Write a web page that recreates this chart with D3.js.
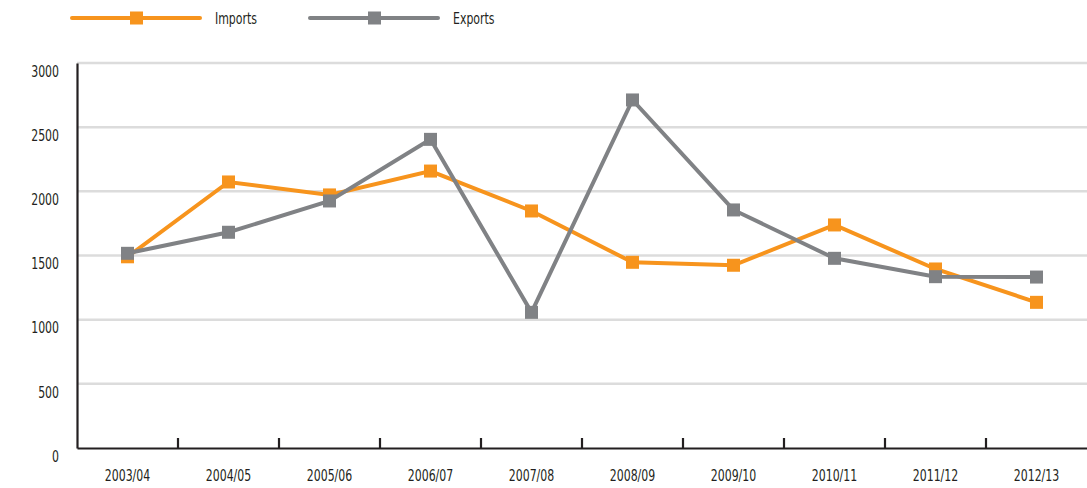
<!DOCTYPE html>
<html><head><meta charset="utf-8">
<script src="https://cdn.jsdelivr.net/npm/d3@7"></script>
<style>
html,body{margin:0;padding:0;background:#fff;}
svg text{font-family:"DejaVu Sans Condensed","DejaVu Sans",sans-serif;fill:#231f20;}
</style></head>
<body>
<svg id="chart" width="1087" height="488"></svg>
<script>
const categories = ["2003/04","2004/05","2005/06","2006/07","2007/08","2008/09","2009/10","2010/11","2011/12","2012/13"];
const imports = [1490, 2073, 1972, 2158, 1847, 1447, 1424, 1738, 1395, 1135];
const exports = [1517, 1681, 1925, 2405, 1057, 2712, 1855, 1478, 1335, 1332];
const yTicks = [0, 500, 1000, 1500, 2000, 2500, 3000];
const seriesNames = ["Imports", "Exports"];
const seriesColors = ["#f7941d", "#808285"];

const svg = d3.select("#chart");
const mLeft = 77, mRight = 1087, mTop = 63, mBottom = 448;
const FS = 16, SX = 0.76;

const x = d3.scaleBand().domain(categories).range([mLeft, mRight]);
const y = d3.scaleLinear().domain([0, 3000]).range([mBottom, mTop]);

// gridlines
svg.append("g").selectAll("line").data(yTicks.filter(d => d > 0)).join("line")
  .attr("x1", mLeft).attr("x2", mRight)
  .attr("y1", d => y(d)).attr("y2", d => y(d))
  .attr("stroke", "#dcdcdc").attr("stroke-width", 2.5);

// y axis
const yAxis = svg.append("g").attr("transform", `translate(${mLeft},0)`)
  .call(d3.axisLeft(y).tickValues(yTicks).tickFormat(d3.format("d")).tickSize(0));
yAxis.select(".domain").attr("stroke", "#231f20").attr("stroke-width", 2.2);
yAxis.selectAll("text").attr("font-size", FS).attr("font-family", null)
  .attr("x", -18 / SX).attr("y", 7.5).attr("dy", "0.36em")
  .attr("transform", `scale(${SX},1)`);

// x axis
const xAxis = svg.append("g").attr("transform", `translate(0,${mBottom})`)
  .call(d3.axisBottom(x).tickSize(0));
xAxis.select(".domain").attr("stroke", "#231f20").attr("stroke-width", 2.2);
xAxis.selectAll("text").attr("font-size", FS).attr("font-family", null)
  .attr("y", 27.5).attr("dy", "0.36em")
  .attr("transform", `scale(${SX},1)`);
// tick marks at band boundaries
svg.append("g").selectAll("line").data(categories.slice(1)).join("line")
  .attr("x1", d => x(d)).attr("x2", d => x(d))
  .attr("y1", mBottom - 10).attr("y2", mBottom)
  .attr("stroke", "#231f20").attr("stroke-width", 2.2);

const cx = d => x(d) + x.bandwidth() / 2;
const line = d3.line().x(d => cx(d.c)).y(d => y(d.v));

[imports, exports].forEach((vals, i) => {
  const data = categories.map((c, j) => ({c, v: vals[j]}));
  const g = svg.append("g");
  g.append("path").datum(data).attr("d", line)
    .attr("fill", "none").attr("stroke", seriesColors[i]).attr("stroke-width", 4)
    .attr("stroke-linejoin", "miter");
  g.selectAll("rect").data(data).join("rect")
    .attr("x", d => cx(d.c) - 6.5).attr("y", d => y(d.v) - 6.5)
    .attr("width", 13).attr("height", 13).attr("fill", seriesColors[i]);
});

// legend
const legendX = [72, 310];
seriesNames.forEach((name, i) => {
  const g = svg.append("g").attr("transform", `translate(${legendX[i]},18)`);
  g.append("line").attr("x1", 0).attr("x2", 128).attr("y1", 0).attr("y2", 0)
    .attr("stroke", seriesColors[i]).attr("stroke-width", 4).attr("stroke-linecap", "round");
  g.append("rect").attr("x", 58).attr("y", -6.5).attr("width", 13).attr("height", 13)
    .attr("fill", seriesColors[i]);
  g.append("text").attr("transform", `translate(143,0) scale(${SX},1)`)
    .attr("dy", "0.36em").attr("font-size", FS).text(name);
});
</script>
</body></html>
